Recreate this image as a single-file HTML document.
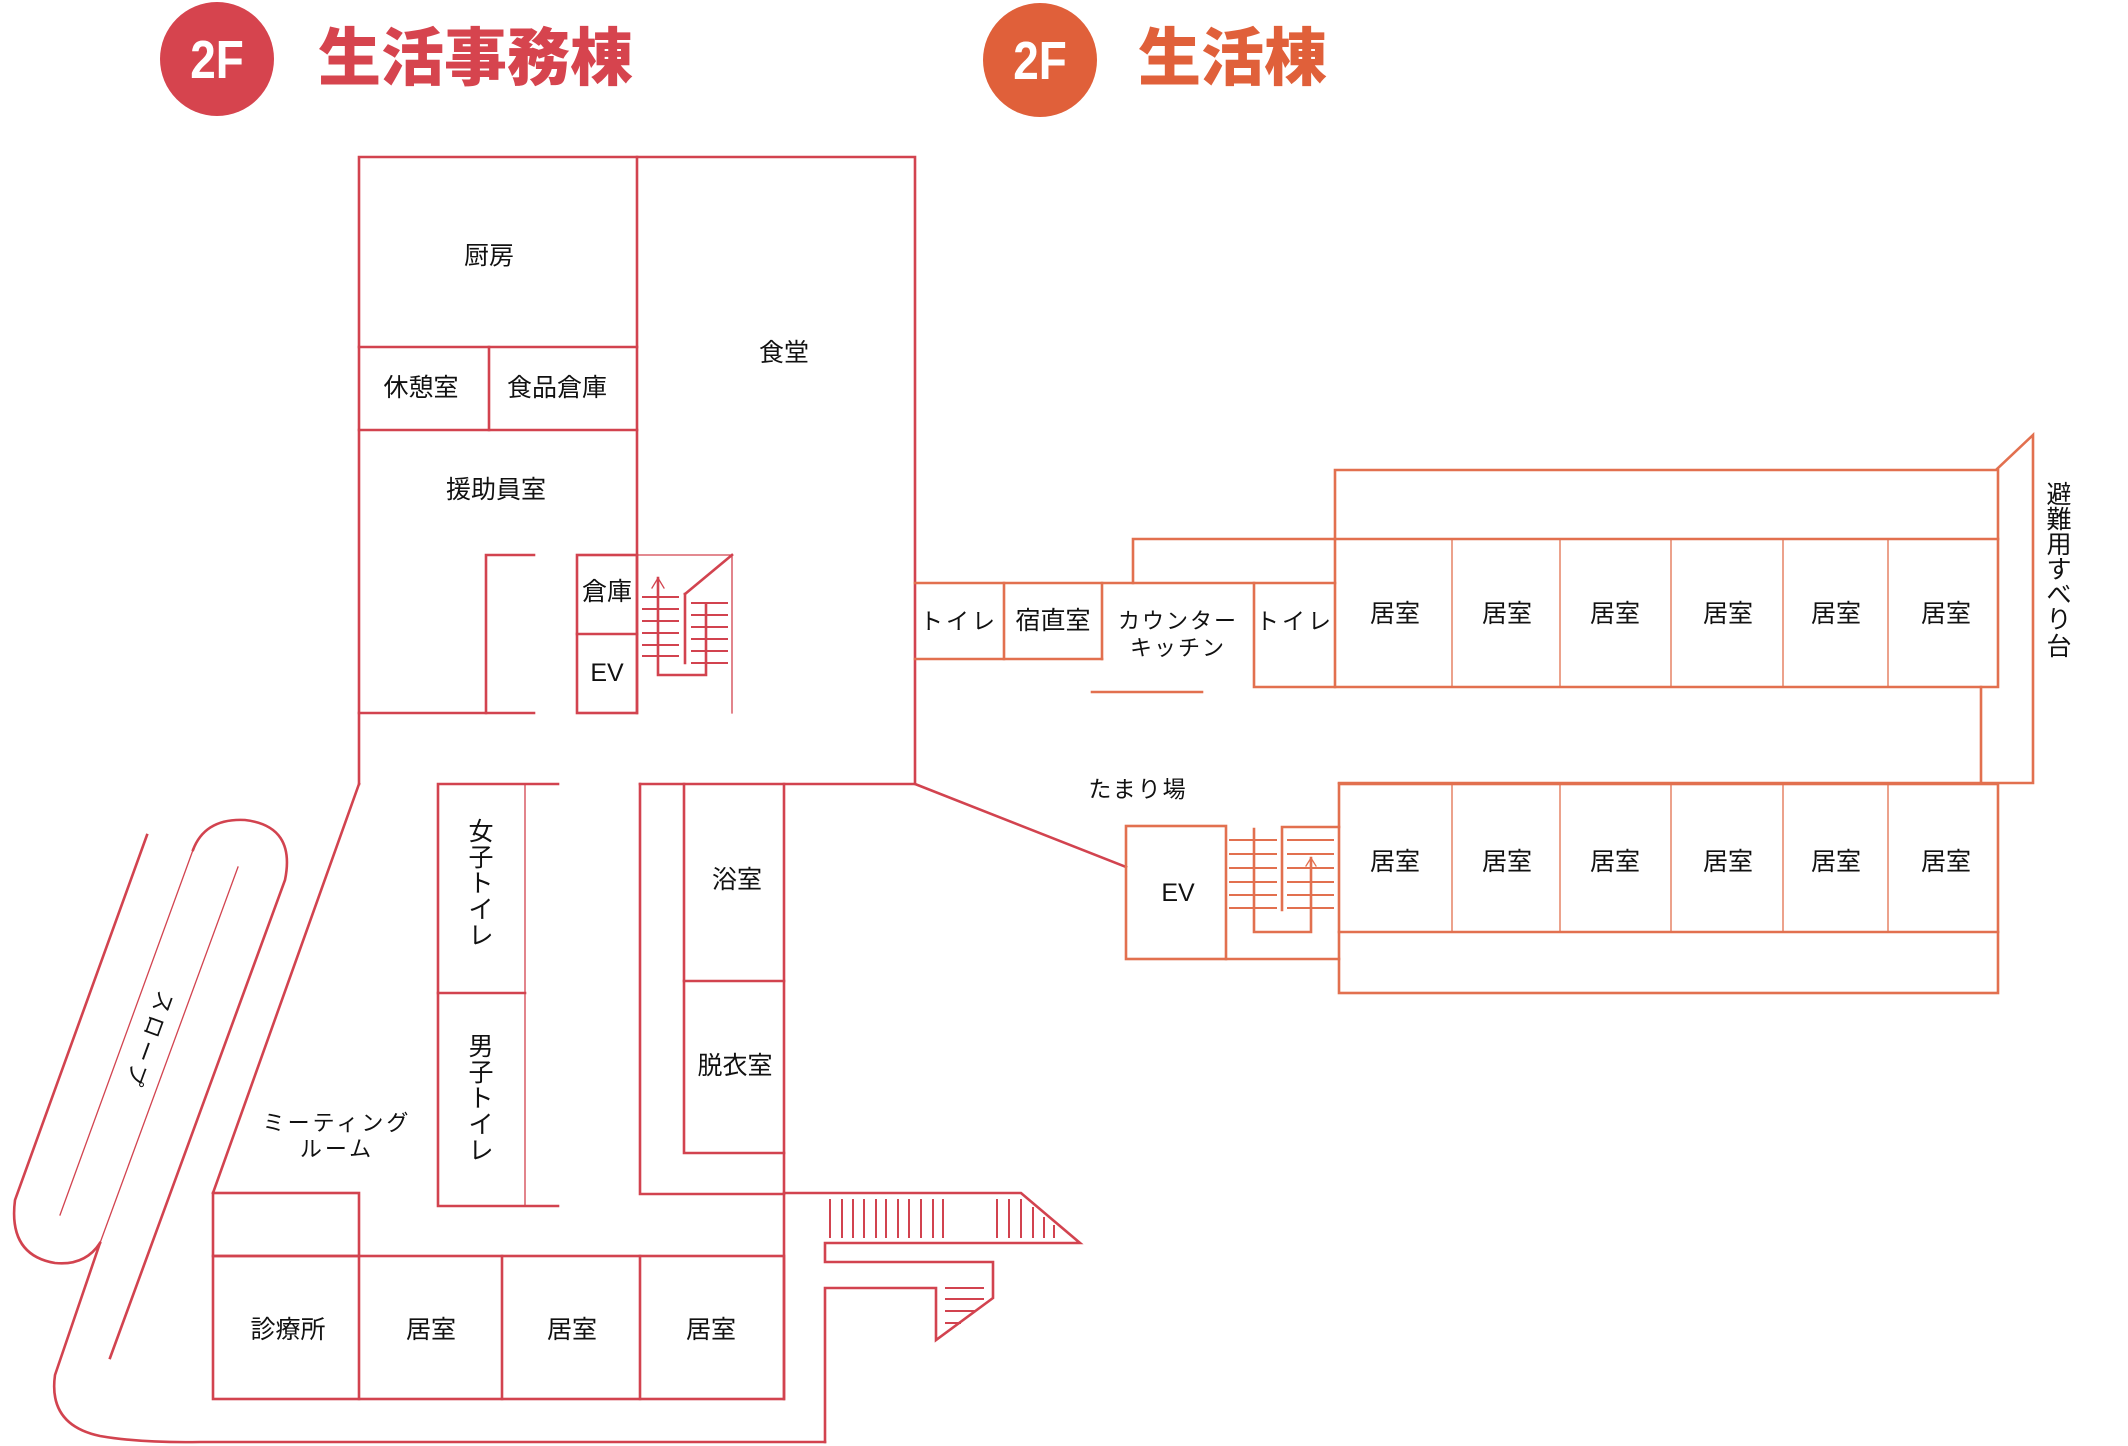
<!DOCTYPE html>
<html><head><meta charset="utf-8"><style>
html,body{margin:0;padding:0;background:#fff;width:2128px;height:1446px;overflow:hidden}
svg{display:block}
text{font-family:"Liberation Sans","Noto Sans CJK JP",sans-serif;fill:#111;font-size:25px}
.L{stroke:#d2434f;stroke-width:2.6;fill:none;stroke-linecap:square}
.R{stroke:#e2704f;stroke-width:2.6;fill:none;stroke-linecap:square}
.t{stroke-width:1.3}
</style></head><body>
<svg width="2128" height="1446" viewBox="0 0 2128 1446" xmlns="http://www.w3.org/2000/svg">
<!-- titles -->
<circle cx="217" cy="59" r="57" fill="#d6444e"/>
<text x="217" y="78" text-anchor="middle" style="font-size:54px;font-weight:bold;fill:#fff" transform="translate(217 0) scale(0.85 1) translate(-217 0)">2F</text>
<text x="318" y="80" style="font-size:63px;font-weight:900;fill:#d6444e;font-family:'Noto Sans CJK JP',sans-serif">生活事務棟</text>
<circle cx="1040" cy="60" r="57" fill="#e0603a"/>
<text x="1040" y="79" text-anchor="middle" style="font-size:54px;font-weight:bold;fill:#fff" transform="translate(1040 0) scale(0.85 1) translate(-1040 0)">2F</text>
<text x="1138" y="80" style="font-size:63px;font-weight:900;fill:#e0603a;font-family:'Noto Sans CJK JP',sans-serif">生活棟</text>

<!-- left building -->
<g class="L">
<polyline points="359,784 359,157 915,157 915,784 640,784"/>
<line x1="637" y1="157" x2="637" y2="713"/>
<line x1="359" y1="347" x2="637" y2="347"/>
<line x1="359" y1="430" x2="637" y2="430"/>
<line x1="489" y1="347" x2="489" y2="430"/>
<polyline points="534,555 486,555 486,713"/>
<line x1="359" y1="713" x2="534" y2="713"/>
<rect x="577" y="555" width="60" height="158"/>
<line x1="577" y1="634" x2="637" y2="634"/>
<polyline points="637,555 732,555 732,713" class="L t"/>
<line x1="732" y1="555" x2="685" y2="594"/>
<line x1="685" y1="594" x2="685" y2="663"/>
<polyline points="658,578 658,675 706,675 706,604"/>
<polyline points="652,588 658,578 664,588" class="L t"/>
<g class="L" style="stroke-width:2">
<line x1="643" y1="597" x2="678" y2="597"/><line x1="643" y1="609" x2="678" y2="609"/><line x1="643" y1="621" x2="678" y2="621"/><line x1="643" y1="633" x2="678" y2="633"/><line x1="643" y1="645" x2="678" y2="645"/><line x1="643" y1="656" x2="678" y2="656"/>
<line x1="692" y1="603" x2="727" y2="603"/><line x1="692" y1="615" x2="727" y2="615"/><line x1="692" y1="627" x2="727" y2="627"/><line x1="692" y1="639" x2="727" y2="639"/><line x1="692" y1="651" x2="727" y2="651"/><line x1="692" y1="663" x2="727" y2="663"/>
</g>
<!-- lower left part -->
<line x1="359" y1="784" x2="213" y2="1193"/>
<rect x="213" y="1193" width="146" height="63"/>
<rect x="213" y="1256" width="571" height="143"/>
<line x1="359" y1="1256" x2="359" y2="1399"/>
<line x1="502" y1="1256" x2="502" y2="1399"/>
<line x1="640" y1="1256" x2="640" y2="1399"/>
<polyline points="558,784 438,784 438,1206 558,1206"/>
<line x1="525" y1="784" x2="525" y2="1206" class="L t"/>
<line x1="438" y1="993" x2="525" y2="993"/>
<polyline points="640,784 640,1194 784,1194"/>
<polyline points="684,784 684,1153 784,1153"/>
<line x1="684" y1="981" x2="784" y2="981"/>
<line x1="784" y1="784" x2="784" y2="1399"/>
<!-- ramp -->
<path d="M147,835 L15,1200 Q8,1255 55,1263 Q85,1266 100,1243"/>
<path d="M193,850 L60,1215" class="L t"/>
<path d="M110,1358 L285,880 Q296,826 245,820 Q205,818 193,850"/>
<path d="M238,867 L100,1243" class="L t"/>
<path d="M100,1243 L55,1375 Q48,1425 100,1436 Q140,1443 200,1442 L825,1442"/>
<!-- bottom right stair -->
<polyline points="784,1193 1021,1193 1080,1243 825,1243 825,1262 993,1262 993,1298 936,1340 936,1288 825,1288 825,1442"/>
<g class="L" style="stroke-width:2">
<line x1="830" y1="1200" x2="830" y2="1237"/><line x1="842" y1="1200" x2="842" y2="1237"/><line x1="853" y1="1200" x2="853" y2="1237"/><line x1="864" y1="1200" x2="864" y2="1237"/><line x1="876" y1="1200" x2="876" y2="1237"/><line x1="886" y1="1200" x2="886" y2="1237"/><line x1="898" y1="1200" x2="898" y2="1237"/><line x1="909" y1="1200" x2="909" y2="1237"/><line x1="921" y1="1200" x2="921" y2="1237"/><line x1="933" y1="1200" x2="933" y2="1237"/><line x1="943" y1="1200" x2="943" y2="1237"/>
<line x1="997" y1="1200" x2="997" y2="1237"/><line x1="1009" y1="1200" x2="1009" y2="1237"/><line x1="1021" y1="1200" x2="1021" y2="1237"/><line x1="1033" y1="1208" x2="1033" y2="1237"/><line x1="1044" y1="1218" x2="1044" y2="1237"/><line x1="1054" y1="1226" x2="1054" y2="1237"/>
<line x1="946" y1="1288" x2="983" y2="1288"/><line x1="946" y1="1299" x2="983" y2="1299"/><line x1="946" y1="1311" x2="975" y2="1311"/><line x1="946" y1="1323" x2="960" y2="1323"/>
</g>
<line x1="915" y1="784" x2="1126" y2="867"/>
</g>

<!-- right building -->
<g class="R">
<polyline points="915,583 1133,583 1133,539 1335,539 1335,470 1996,470 2033,435 2033,783 1339,783"/>
<line x1="915" y1="659" x2="1102" y2="659"/>
<line x1="1004" y1="583" x2="1004" y2="659"/>
<line x1="1102" y1="583" x2="1102" y2="659"/>
<line x1="1133" y1="583" x2="1335" y2="583"/>
<polyline points="1254,583 1254,687 1998,687 1998,470"/>
<line x1="1335" y1="539" x2="1998" y2="539"/>
<line x1="1335" y1="539" x2="1335" y2="687"/>
<line x1="1452" y1="539" x2="1452" y2="687" class="R t"/>
<line x1="1560" y1="539" x2="1560" y2="687" class="R t"/>
<line x1="1671" y1="539" x2="1671" y2="687" class="R t"/>
<line x1="1783" y1="539" x2="1783" y2="687" class="R t"/>
<line x1="1888" y1="539" x2="1888" y2="687" class="R t"/>
<line x1="1981" y1="687" x2="1981" y2="783"/>
<line x1="1092" y1="692" x2="1202" y2="692"/>
<!-- lower row -->
<rect x="1339" y="784" width="659" height="209"/>
<line x1="1339" y1="932" x2="1998" y2="932"/>
<line x1="1452" y1="784" x2="1452" y2="932" class="R t"/>
<line x1="1560" y1="784" x2="1560" y2="932" class="R t"/>
<line x1="1671" y1="784" x2="1671" y2="932" class="R t"/>
<line x1="1783" y1="784" x2="1783" y2="932" class="R t"/>
<line x1="1888" y1="784" x2="1888" y2="932" class="R t"/>
<rect x="1126" y="826" width="100" height="133"/>
<line x1="1226" y1="959" x2="1339" y2="959"/>
<polyline points="1254,829 1254,932 1311,932 1311,858"/>
<polyline points="1306,866 1311,858 1316,866" class="R t"/>
<polyline points="1282,910 1282,827 1339,827"/>
<g class="R" style="stroke-width:2">
<line x1="1230" y1="840" x2="1276" y2="840"/><line x1="1230" y1="854" x2="1276" y2="854"/><line x1="1230" y1="868" x2="1276" y2="868"/><line x1="1230" y1="882" x2="1276" y2="882"/><line x1="1230" y1="895" x2="1276" y2="895"/><line x1="1230" y1="908" x2="1276" y2="908"/>
<line x1="1288" y1="840" x2="1333" y2="840"/><line x1="1288" y1="854" x2="1333" y2="854"/><line x1="1288" y1="868" x2="1333" y2="868"/><line x1="1288" y1="882" x2="1333" y2="882"/><line x1="1288" y1="895" x2="1333" y2="895"/><line x1="1288" y1="908" x2="1333" y2="908"/>
</g>
</g>

<!-- labels -->
<g text-anchor="middle" dominant-baseline="central">
<text x="489" y="256">厨房</text>
<text x="421" y="388">休憩室</text>
<text x="557" y="388">食品倉庫</text>
<text x="784" y="353">食堂</text>
<text x="496" y="490">援助員室</text>
<text x="607" y="592">倉庫</text>
<text x="607" y="673">EV</text>
<text x="737" y="880">浴室</text>
<text x="735" y="1066">脱衣室</text>
<text x="337" y="1123" style="font-size:22px;letter-spacing:3px">ミーティング</text>
<text x="337" y="1149" style="font-size:22px;letter-spacing:3px">ルーム</text>
<text x="288" y="1330">診療所</text>
<text x="431" y="1330">居室</text>
<text x="572" y="1330">居室</text>
<text x="711" y="1330">居室</text>
<text x="149" y="1040" transform="rotate(110 149 1040)" style="font-size:22px;letter-spacing:4px">スロープ</text>
<text x="959" y="621" style="font-size:23px;letter-spacing:3px">トイレ</text>
<text x="1053" y="621">宿直室</text>
<text x="1178" y="621" style="font-size:22px;letter-spacing:2px">カウンター</text>
<text x="1178" y="648" style="font-size:22px;letter-spacing:2px">キッチン</text>
<text x="1295" y="621" style="font-size:23px;letter-spacing:3px">トイレ</text>
<text x="1395" y="614">居室</text><text x="1507" y="614">居室</text><text x="1615" y="614">居室</text><text x="1728" y="614">居室</text><text x="1836" y="614">居室</text><text x="1946" y="614">居室</text>
<text x="1395" y="862">居室</text><text x="1507" y="862">居室</text><text x="1615" y="862">居室</text><text x="1728" y="862">居室</text><text x="1836" y="862">居室</text><text x="1946" y="862">居室</text>
<text x="1138" y="789" style="font-size:23px;letter-spacing:2px">たまり場</text>
<text x="1178" y="893">EV</text>
</g>
<g text-anchor="middle">
<text x="2059" y="503">避</text>
<text x="2059" y="528">難</text>
<text x="2059" y="553">用</text>
<text x="2059" y="578">す</text>
<text x="2059" y="603">べ</text>
<text x="2059" y="628">り</text>
<text x="2059" y="655">台</text>
<text x="481" y="840">女</text>
<text x="481" y="866">子</text>
<text x="481" y="892">ト</text>
<text x="481" y="918">イ</text>
<text x="481" y="944">レ</text>
<text x="481" y="1055">男</text>
<text x="481" y="1081">子</text>
<text x="481" y="1107">ト</text>
<text x="481" y="1133">イ</text>
<text x="481" y="1159">レ</text>
</g>
</svg>
</body></html>
